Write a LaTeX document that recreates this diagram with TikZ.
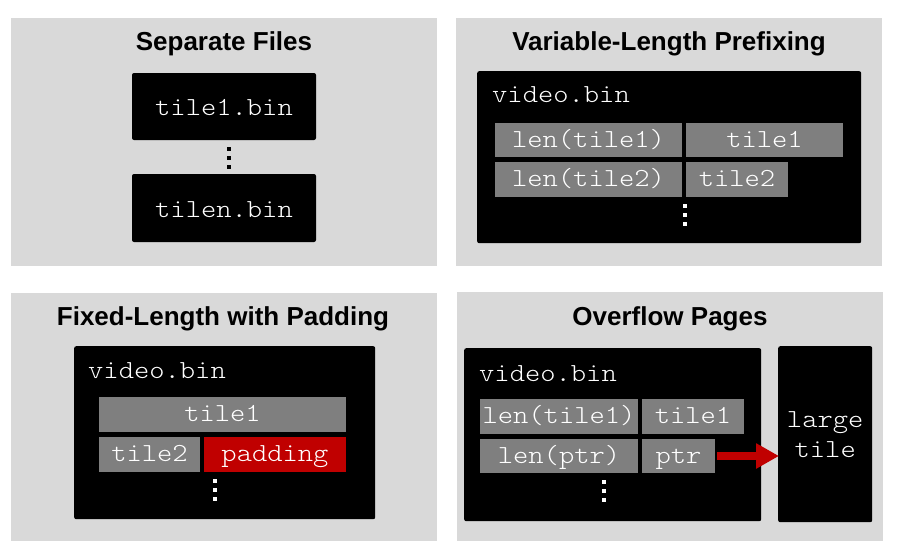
\documentclass[tikz,border=0pt]{standalone}
\usepackage{fontspec}
\setmainfont{Liberation Sans}
\newfontfamily\monofnt[FakeStretch=1.12]{lmmonolt10-regular.otf}
\usetikzlibrary{arrows.meta}
\definecolor{panelgray}{HTML}{D9D9D9}
\definecolor{cellgray}{HTML}{7F7F7F}
\definecolor{padred}{HTML}{C00000}
\tikzset{
  panel/.style={fill=panelgray, draw=none, anchor=north west, inner sep=0pt},
  blackbox/.style={fill=black, draw=none, rounded corners=2pt, anchor=north west, inner sep=0pt},
  titletext/.style={font=\fontsize{26}{30}\selectfont\bfseries, text=black, anchor=base, inner sep=0pt},
  monotext/.style={font=\monofnt\fontsize{26}{31}\selectfont, text=white},
  cell/.style={monotext, fill=cellgray, inner sep=0pt, text height=18pt, text depth=4pt},
  redcell/.style={cell, fill=padred},
  filebox/.style={monotext, fill=black, rounded corners=2pt, inner sep=0pt, text height=18pt, text depth=0pt},
  label/.style={monotext, anchor=base west, inner sep=0pt},
  dot/.style={minimum size=4pt, inner sep=0pt, draw=none},
}
\begin{document}
\begin{tikzpicture}[x=1pt,y=-1pt]
\useasboundingbox (0,0) rectangle (901,558);
\fill[white] (0,0) rectangle (901,558);

% ---------- Panel 1: Separate Files ----------
\node[panel, minimum width=426pt, minimum height=248pt] (p1) at (11,18) {};
\node[titletext] (t1) at (224,50.5) {Separate Files};
\node[filebox, minimum width=184pt, minimum height=67pt] (b1) at (224,106.5) {tile1.bin};
\node[filebox, minimum width=184pt, minimum height=68pt] (b2) at (224,208) {tilen.bin};
\node[dot, fill=black] (d1a) at (229,149) {};
\node[dot, fill=black] (d1b) at (229,158) {};
\node[dot, fill=black] (d1c) at (229,167) {};

% ---------- Panel 2: Variable-Length Prefixing ----------
\node[panel, minimum width=426pt, minimum height=248pt] (p2) at (456,18) {};
\node[titletext] (t2) at (669,50.5) {Variable-Length Prefixing};
\node[blackbox, minimum width=384pt, minimum height=172pt] (vb) at (477,71) {};
\node[label] (vname) at (492,102) {video.bin};
\node[cell, minimum width=187pt, minimum height=34pt] (v1len) at (588.5,140) {len(tile1)};
\node[cell, minimum width=157pt, minimum height=34pt] (v1tile) at (764.5,140) {tile1};
\node[cell, minimum width=187pt, minimum height=35pt] (v2len) at (588.5,179.5) {len(tile2)};
\node[cell, minimum width=102pt, minimum height=35pt] (v2tile) at (737,179.5) {tile2};
\node[dot, fill=white] (d2a) at (685,206) {};
\node[dot, fill=white] (d2b) at (685,215) {};
\node[dot, fill=white] (d2c) at (685,224) {};

% ---------- Panel 3: Fixed-Length with Padding ----------
\node[panel, minimum width=426pt, minimum height=248pt] (p3) at (11,293) {};
\node[titletext] (t3) at (223,325) {Fixed-Length with Padding};
\node[blackbox, minimum width=301pt, minimum height=173pt] (fb) at (74,346) {};
\node[label] (fname) at (88,378) {video.bin};
\node[cell, minimum width=247pt, minimum height=35pt] (f1) at (222.5,414.5) {tile1};
\node[cell, minimum width=101pt, minimum height=35pt] (f2) at (149.5,454.5) {tile2};
\node[redcell, minimum width=142pt, minimum height=35pt] (fpad) at (275,454.5) {padding};
\node[dot, fill=white] (d3a) at (215,481) {};
\node[dot, fill=white] (d3b) at (215,490) {};
\node[dot, fill=white] (d3c) at (215,499) {};

% ---------- Panel 4: Overflow Pages ----------
\node[panel, minimum width=426pt, minimum height=249pt] (p4) at (457,292) {};
\node[titletext] (t4) at (670,325) {Overflow Pages};
\node[blackbox, minimum width=297pt, minimum height=173pt] (ob) at (464,348) {};
\node[label] (oname) at (479,381) {video.bin};
\node[cell, minimum width=158pt, minimum height=35pt] (o1len) at (559,416.5) {len(tile1)};
\node[cell, minimum width=102pt, minimum height=35pt] (o1tile) at (693,416.5) {tile1};
\node[cell, minimum width=158pt, minimum height=34pt] (o2len) at (559,456) {len(ptr)};
\node[cell, minimum width=73pt, minimum height=34pt] (o2ptr) at (678.5,456) {ptr};
\node[dot, fill=white] (d4a) at (604,482) {};
\node[dot, fill=white] (d4b) at (604,491) {};
\node[dot, fill=white] (d4c) at (604,500) {};
\node[blackbox, minimum width=94pt, minimum height=176pt] (large) at (778,346) {};
\node[monotext, align=center, inner sep=0pt, font=\monofnt\fontsize{26}{30}\selectfont] (largetxt) at (large.center) {large\\tile};

\draw[padred, line width=8pt, -{Triangle[length=23pt,width=24pt]}, shorten <=2pt, shorten >=-1pt] (o2ptr.east) -- (o2ptr.east -| large.west);
\end{tikzpicture}
\end{document}
